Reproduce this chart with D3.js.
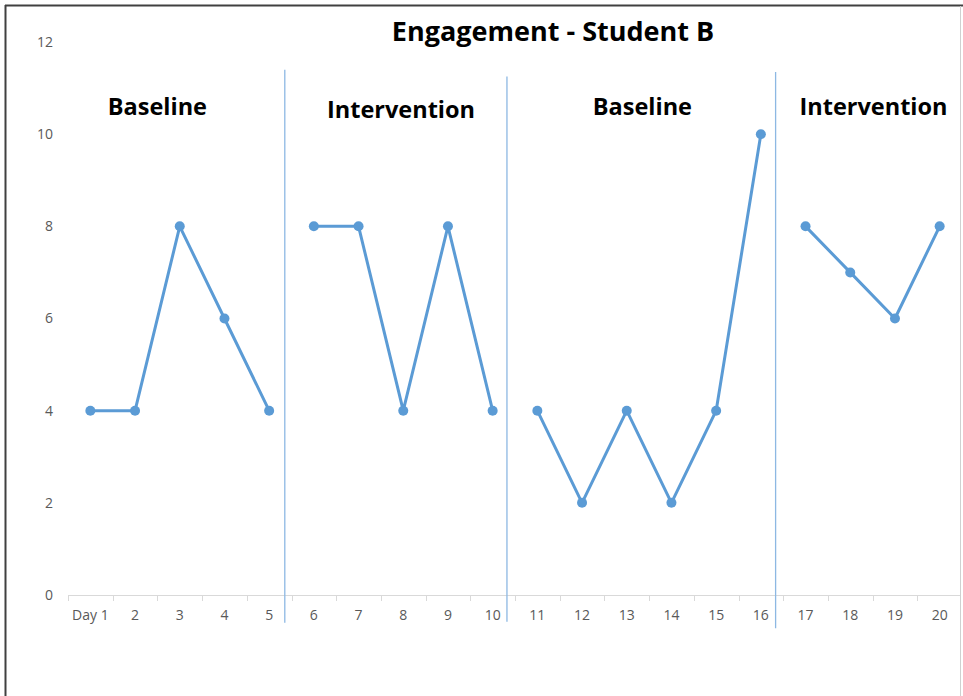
<!DOCTYPE html>
<html><head><meta charset="utf-8">
<script src="https://cdn.jsdelivr.net/npm/d3@7"></script>
<style>body{margin:0;background:#fff}svg{display:block}</style>
</head><body>
<script>
const days = ["Day 1","2","3","4","5","6","7","8","9","10","11","12","13","14","15","16","17","18","19","20"];
const engagement = [4,4,8,6,4, 8,8,4,8,4, 4,2,4,2,4,10, 8,7,6,8];
const phaseIndex = [0,0,0,0,0, 1,1,1,1,1, 2,2,2,2,2,2, 3,3,3,3];
const phaseNames = ["Baseline","Intervention","Baseline","Intervention"];
const phaseLabelX = [1.5, 6.95, 12.35, 17.52];   // in day-index units (0-based centers)
const phaseLabelY = [10.6, 10.53, 10.6, 10.6];
const phaseLines = [4.35, 9.32, 15.33];          // boundaries in day units
const phaseLineTop = [11.4, 11.25, 11.35];
const phaseLineBottom = [-0.6, -0.58, -0.72];
const yTicks = [0,2,4,6,8,10,12];
const title = "Engagement - Student B";

const W = 963, H = 696;
const svg = d3.select("body").append("svg").attr("width", W).attr("height", H);
const color = "#5B9BD5";

const x = d3.scaleBand().domain(d3.range(days.length)).range([68, 962]).paddingInner(0).paddingOuter(0);
const y = d3.scaleLinear().domain([0, 12]).range([595, 42]);
const xc = i => x(0) + (i + 0.5) * x.step();

// frame
svg.append("line").attr("x1",5.5).attr("x2",5.5).attr("y1",5).attr("y2",H).attr("stroke","#404040").attr("stroke-width",2);
svg.append("line").attr("x1",5).attr("x2",W).attr("y1",5.5).attr("y2",5.5).attr("stroke","#404040").attr("stroke-width",2);
svg.append("line").attr("x1",960.5).attr("x2",960.5).attr("y1",6).attr("y2",H).attr("stroke","#d0d0d0").attr("stroke-width",1);

// y axis labels
svg.append("g").selectAll("text").data(yTicks).join("text")
  .attr("x", 53).attr("y", d => y(d)).attr("dy","0.35em").attr("text-anchor","end")
  .attr("font-family","'Open Sans', sans-serif").attr("font-size",14).attr("fill","#595959").text(d=>d);

// x axis
const xAxisG = svg.append("g");
xAxisG.append("line").attr("x1",68).attr("x2",960).attr("y1",y(0)+0.5).attr("y2",y(0)+0.5).attr("stroke","#d9d9d9");
xAxisG.selectAll("line.tk").data(d3.range(days.length)).join("line").attr("class","tk")
  .attr("x1", i => Math.round(x(0)+i*x.step())+0.5).attr("x2", i => Math.round(x(0)+i*x.step())+0.5)
  .attr("y1", y(0)).attr("y2", y(0)+6).attr("stroke","#d9d9d9");
xAxisG.selectAll("text").data(days).join("text")
  .attr("x",(d,i)=>xc(i)).attr("y", y(0)+25).attr("text-anchor","middle")
  .attr("font-family","'Open Sans', sans-serif").attr("font-size",14).attr("fill","#595959").text(d=>d);

// phase lines
svg.append("g").selectAll("line").data(phaseLines).join("line")
  .attr("x1",d=>xc(d)).attr("x2",d=>xc(d))
  .attr("y1",(d,i)=>y(phaseLineTop[i])).attr("y2",(d,i)=>y(phaseLineBottom[i]))
  .attr("stroke","#8db8e3").attr("stroke-width",1.3);

// data lines per phase
const pts = engagement.map((v,i)=>({i, v, p: phaseIndex[i]}));
const groups = d3.groups(pts, d=>d.p);
const line = d3.line().x(d=>xc(d.i)).y(d=>y(d.v));
svg.append("g").selectAll("path").data(groups).join("path")
  .attr("d", g=>line(g[1])).attr("fill","none").attr("stroke",color).attr("stroke-width",3).attr("stroke-linejoin","round");
svg.append("g").selectAll("circle").data(pts).join("circle")
  .attr("cx",d=>xc(d.i)).attr("cy",d=>y(d.v)).attr("r",5).attr("fill",color);

// phase labels
svg.append("g").selectAll("text").data(phaseNames).join("text")
  .attr("x",(d,i)=>xc(phaseLabelX[i])).attr("y",(d,i)=>y(phaseLabelY[i])).attr("dy","0.35em")
  .attr("text-anchor","middle").attr("font-family","'Open Sans', sans-serif").attr("font-weight","bold")
  .attr("font-size",23.5).attr("fill","#000").text(d=>d);

// title
svg.append("text").attr("x",553).attr("y",32).attr("dy","0.35em").attr("text-anchor","middle")
  .attr("font-family","'Open Sans', sans-serif").attr("font-weight","bold").attr("font-size",27).attr("fill","#000").text(title);
</script>
</body></html>
